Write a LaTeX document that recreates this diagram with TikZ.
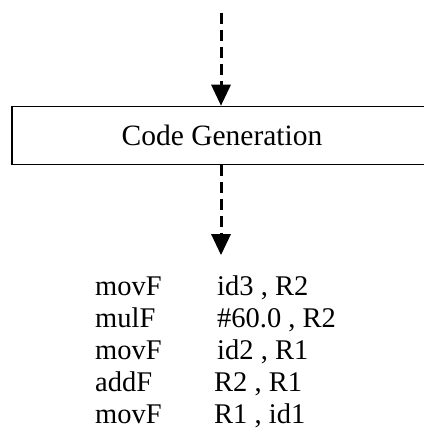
\documentclass[tikz,border=0pt]{standalone}
\usepackage{fontspec}
\setmainfont{Liberation Serif}
\usetikzlibrary{arrows.meta}

\begin{document}
\begin{tikzpicture}[x=1pt,y=1pt,yscale=-1,xscale=1]
\tikzset{
  flow/.style={draw, line width=3pt, dash pattern=on 11pt off 6pt,
    -{Triangle[width=20pt,length=21pt,line width=0pt]}},
  phase/.style={draw, line width=1.8pt, minimum width=420pt, minimum height=58pt, inner sep=0pt,
    font=\fontsize{29.5}{34}\selectfont},
  instr/.style={anchor=base west, inner sep=0pt, font=\fontsize{28.5}{34}\selectfont}
}
\useasboundingbox (0,0) rectangle (423,435);
\coordinate (in) at (221,13);
\node (codegen) [phase] at (222,135.5) {Code Generation};
\coordinate (out) at (221,255);
\draw [flow] (in) -- (in |- codegen.north);
\draw [flow] (out |- codegen.south) -- (out);
% target code
\node (op1) [instr] at (95,295) {movF};
\node (arg1) [instr] at (217,295) {id3 ,\ R2};
\node (op2) [instr] at (95,327) {mulF};
\node (arg2) [instr] at (217,327) {\#60.0 , R2};
\node (op3) [instr] at (95,359) {movF};
\node (arg3) [instr] at (217,359) {id2 ,\ R1};
\node (op4) [instr] at (95,391) {addF};
\node (arg4) [instr] at (214,391) {R2 ,\ R1};
\node (op5) [instr] at (95,423) {movF};
\node (arg5) [instr] at (214,423) {R1 ,\ id1};
\end{tikzpicture}
\end{document}
